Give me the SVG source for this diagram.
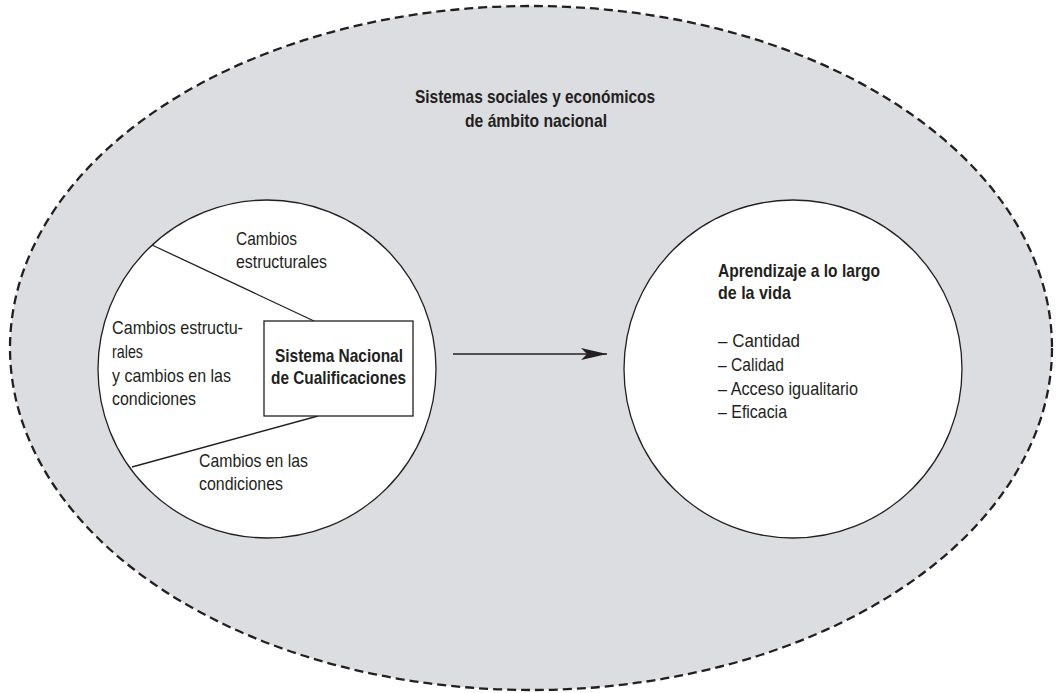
<svg xmlns="http://www.w3.org/2000/svg" width="1062" height="693" viewBox="0 0 1062 693">
  <style>
    .t { font-family: "Liberation Sans", Arial, sans-serif; font-size: 18.5px; fill: #231f20; }
    .b { font-weight: bold; }
    .circle { fill: #ffffff; stroke: #231f20; stroke-width: 1.3; }
    .line { stroke: #231f20; stroke-width: 1.3; fill: none; }
  </style>
  <defs>
    <marker id="arrow" markerWidth="26" markerHeight="14" refX="26" refY="7" orient="auto" markerUnits="userSpaceOnUse">
      <path d="M0,1 L26,7 L0,13 L6,7 Z" fill="#231f20"/>
    </marker>
  </defs>
  <rect width="1062" height="693" fill="#ffffff"/>

  <!-- national social and economic context -->
  <g id="entorno">
    <ellipse cx="531" cy="348" rx="521" ry="342" fill="#dcdde0" stroke="#231f20" stroke-width="2.3" stroke-dasharray="9,5"/>
    <text class="t b" text-anchor="middle" x="535" y="103" textLength="240" lengthAdjust="spacingAndGlyphs">Sistemas sociales y económicos</text>
    <text class="t b" text-anchor="middle" x="536" y="127" textLength="142" lengthAdjust="spacingAndGlyphs">de ámbito nacional</text>
  </g>

  <!-- qualifications system circle -->
  <g id="sistema-nacional">
    <circle class="circle" cx="267" cy="369" r="169"/>
    <line class="line" x1="152" y1="245" x2="314" y2="321"/>
    <line class="line" x1="132" y1="467" x2="318" y2="416"/>
    <rect x="264" y="321" width="149" height="95" fill="#ffffff" stroke="#231f20" stroke-width="1.3"/>
    <text class="t b" x="275" y="362" textLength="128" lengthAdjust="spacingAndGlyphs">Sistema Nacional</text>
    <text class="t b" x="271" y="384" textLength="135" lengthAdjust="spacingAndGlyphs">de Cualificaciones</text>
    <text class="t" x="236" y="245" textLength="61" lengthAdjust="spacingAndGlyphs">Cambios</text>
    <text class="t" x="236" y="268" textLength="91" lengthAdjust="spacingAndGlyphs">estructurales</text>
    <text class="t" x="112" y="334" textLength="131" lengthAdjust="spacingAndGlyphs">Cambios estructu-</text>
    <text class="t" x="112" y="358" textLength="31" lengthAdjust="spacingAndGlyphs">rales</text>
    <text class="t" x="112" y="382" textLength="119" lengthAdjust="spacingAndGlyphs">y cambios en las</text>
    <text class="t" x="112" y="405" textLength="84" lengthAdjust="spacingAndGlyphs">condiciones</text>
    <text class="t" x="199" y="467" textLength="109" lengthAdjust="spacingAndGlyphs">Cambios en las</text>
    <text class="t" x="199" y="490" textLength="84" lengthAdjust="spacingAndGlyphs">condiciones</text>
  </g>

  <!-- lifelong learning circle -->
  <g id="aprendizaje">
    <circle class="circle" cx="793" cy="369" r="169"/>
    <text class="t b" x="718" y="277" textLength="162" lengthAdjust="spacingAndGlyphs">Aprendizaje a lo largo</text>
    <text class="t b" x="718" y="299" textLength="73" lengthAdjust="spacingAndGlyphs">de la vida</text>
    <text class="t" x="718" y="347" textLength="82" lengthAdjust="spacingAndGlyphs">–  Cantidad</text>
    <text class="t" x="718" y="371" textLength="66" lengthAdjust="spacingAndGlyphs">– Calidad</text>
    <text class="t" x="718" y="395" textLength="140" lengthAdjust="spacingAndGlyphs">– Acceso igualitario</text>
    <text class="t" x="718" y="418" textLength="69" lengthAdjust="spacingAndGlyphs">– Eficacia</text>
  </g>

  <g id="connectors">
    <line class="line" x1="453" y1="354" x2="607" y2="354" marker-end="url(#arrow)"/>
  </g>
</svg>
